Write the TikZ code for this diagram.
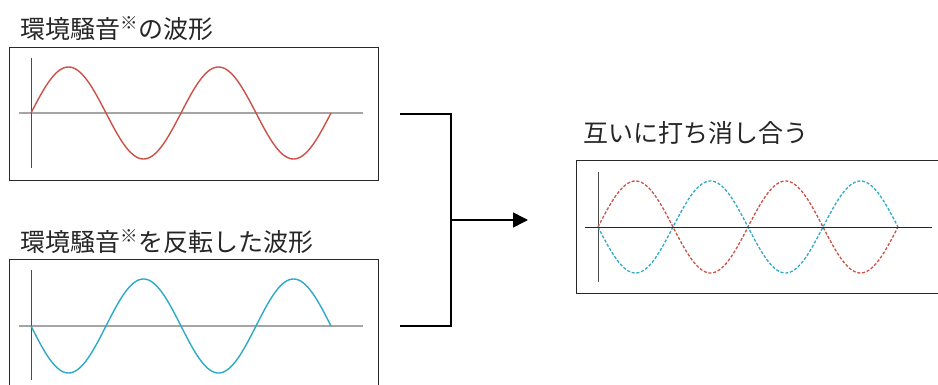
\documentclass[tikz,border=0pt]{standalone}
\usepackage{fontspec}
\newfontfamily\jp{Noto Sans CJK JP}
\usetikzlibrary{arrows.meta}
\definecolor{wred}{RGB}{205,80,70}
\definecolor{wblue}{RGB}{45,170,200}
\definecolor{axgray}{RGB}{165,165,165}
\definecolor{framec}{RGB}{40,40,40}
\begin{document}
\begin{tikzpicture}[x=1pt,y=-1pt,
  panel/.style={draw=framec, line width=1pt, anchor=north west, inner sep=0pt, minimum width=369pt},
  title/.style={anchor=west, inner sep=0pt, font=\jp\fontsize{25}{28}\selectfont, text=black!85},
  wave/.style={line width=1.4pt},
  dwave/.style={line width=1.3pt, dash pattern=on 3pt off 1.8pt},
  conn/.style={line width=1.6pt, black},
  vaxis/.style={black!70, line width=0.8pt},
  haxis/.style={axgray, line width=1.3pt},
]
\useasboundingbox (0,0) rectangle (938,385);
\clip (0,0) rectangle (938,385);
% panel 1
\node[title] (t1) at (20,29) {環境騒音\textsuperscript{※}の波形};
\node[panel, minimum height=133pt] (p1) at (8.5,47) {};
\draw[haxis] (19,113) -- (363,113);
\draw[vaxis] (31,58) -- (31,168);
\draw[wave, wred] plot[domain=0:300, samples=160, smooth] ({31+\x},{113-46*sin(\x*2.4)});
% panel 2
\node[title] (t2) at (20,242) {環境騒音\textsuperscript{※}を反転した波形};
\node[panel, minimum height=140pt] (p2) at (8.5,259) {};
\draw[haxis] (19,326) -- (363,326);
\draw[vaxis] (31,270) -- (31,380);
\draw[wave, wblue] plot[domain=0:300, samples=160, smooth] ({31+\x},{326+47*sin(\x*2.4)});
% panel 3
\node[title] (t3) at (583,133) {互いに打ち消し合う};
\node[panel, minimum height=133pt] (p3) at (575.5,160) {};
\draw[vaxis] (598,172) -- (598,282);
\draw[dwave, wred] plot[domain=0:300, samples=160, smooth] ({598+\x},{227-46*sin(\x*2.4)});
\draw[dwave, wblue] plot[domain=0:300, samples=160, smooth] ({598+\x},{227+46*sin(\x*2.4)});
\draw[black!85, line width=0.9pt] (585,227) -- (932,227);
% connectors
\coordinate (a1) at (400,114);
\coordinate (a2) at (400,326);
\coordinate (j) at (451,220);
\coordinate (tip) at (528,220);
\draw[conn] (a1) -- (a1 -| j) -- (a2 -| j) -- (a2);
\draw[conn, -{Triangle[length=15pt,width=15pt]}] (j) -- (tip);
\end{tikzpicture}
\end{document}
